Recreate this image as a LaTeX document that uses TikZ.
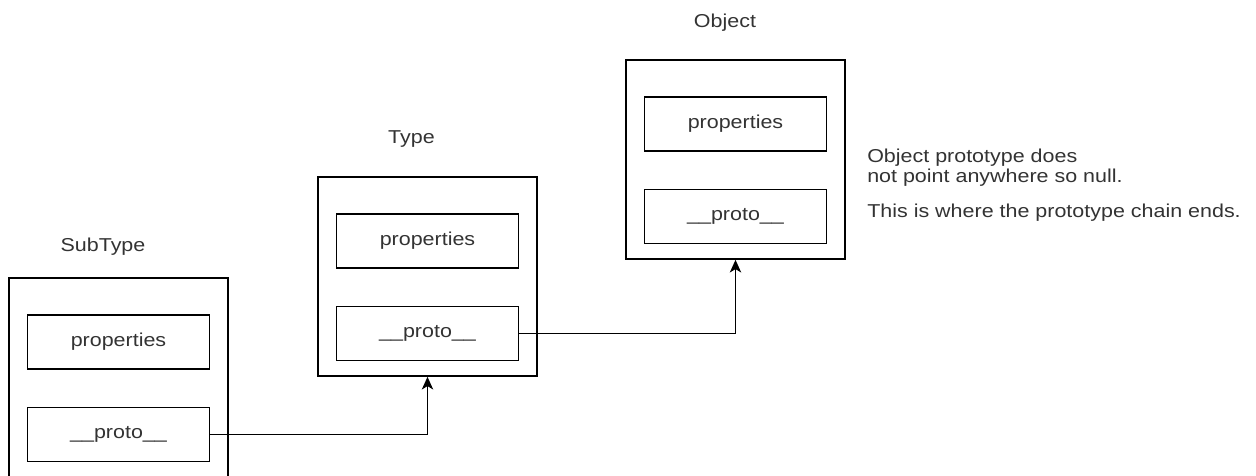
\documentclass[tikz,border=0pt]{standalone}
\usepackage{fontspec}
\setmainfont{Liberation Sans}[FakeStretch=1.15]
\usetikzlibrary{positioning,arrows.meta}

\tikzset{
  frame/.style={draw, line width=1.2pt, minimum width=164.25pt, minimum height=149.25pt, inner sep=0pt},
  field/.style={draw, line width=1.2pt, minimum width=136.5pt, minimum height=40.5pt, inner sep=0pt, text=black!80},
  title/.style={text=black!80, inner sep=0pt},
  link/.style={-{Stealth[length=9.5pt,width=8.5pt,inset=2.5pt]}, line width=1.1pt},
}

\begin{document}
\begin{tikzpicture}[x=0.75pt, y=-0.75pt, font=\fontsize{14}{15}\selectfont]
\clip (0,0) rectangle (1256,475);
\fill[white] (0,0) rectangle (1256,475);

% SubType
\node[title] (sublbl) at (103,247) {SubType};
\node[frame] (sub) at (118.5,377.5) {};
\node[field, below=27.75pt of sub.north] (subprop) {properties};
\node[field, below=27.75pt of subprop] (subproto) {\_\_proto\_\_};

% Type
\node[title] (typlbl) at (411.5,139) {Type};
\node[frame] (typ) at (427.5,276.5) {};
\node[field, below=27.75pt of typ.north] (typprop) {properties};
\node[field, below=27.75pt of typprop] (typproto) {\_\_proto\_\_};

% Object
\node[title] (objlbl) at (725,23) {Object};
\node[frame] (obj) at (735.5,159.5) {};
\node[field, below=27.75pt of obj.north] (objprop) {properties};
\node[field, below=27.75pt of objprop] (objproto) {\_\_proto\_\_};

\node[title, align=left, anchor=west] (note) at (867,185.5)
  {Object prototype does\\not point anywhere so null.\\[11.5pt]This is where the prototype chain ends.};

% chain
\draw[link] (subproto.east) -| (typ.south);
\draw[link] (typproto.east) -| (obj.south);
\end{tikzpicture}
\end{document}
